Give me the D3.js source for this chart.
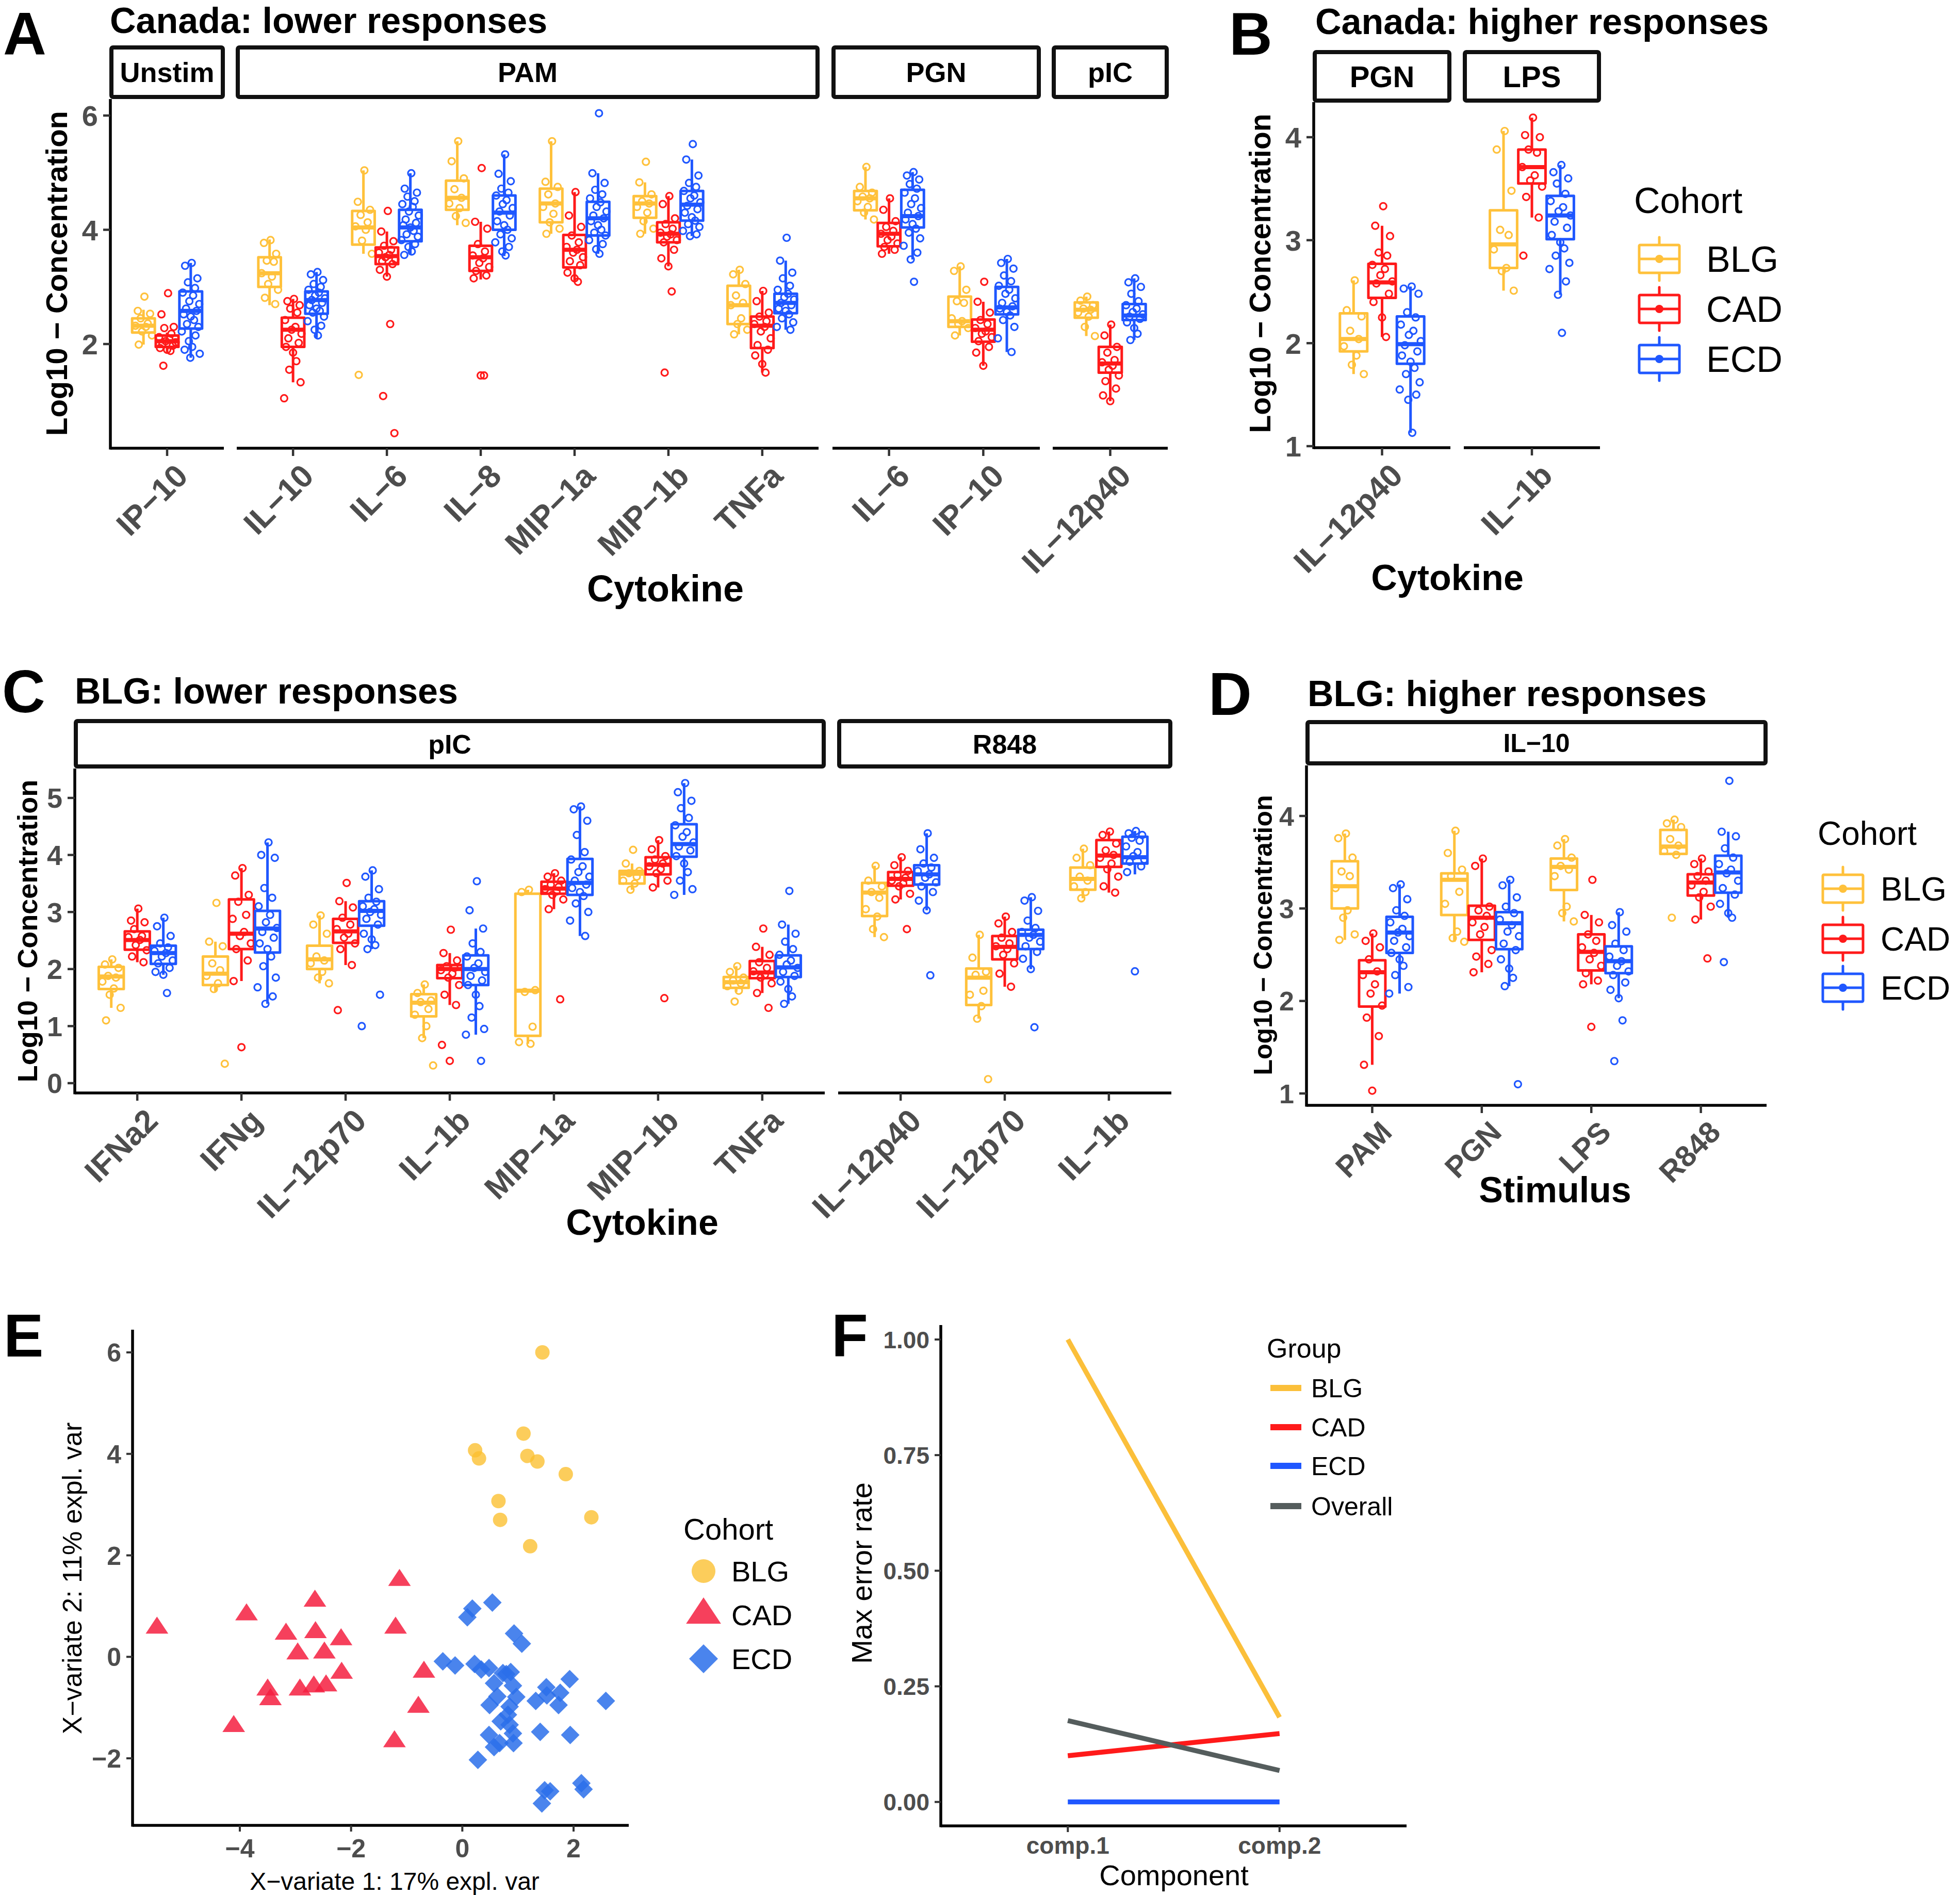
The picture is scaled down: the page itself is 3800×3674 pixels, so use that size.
<!DOCTYPE html>
<html><head><meta charset="utf-8">
<script src="https://cdn.jsdelivr.net/npm/d3@7"></script>
<style>body{margin:0;background:#fff}svg{display:block}</style>
</head><body>
<svg id="c" width="3800" height="3674"></svg>
<script>
// ---------------- DATA ----------------
const cohorts = ["BLG", "CAD", "ECD"];
const cohortColors = ["#FFC13B", "#FF1A1A", "#1F57FF"];

// Panel A: Canada lower responses. stats = [whiskerLow, q1, median, q3, whiskerHigh]
const aFacets = ["Unstim", "PAM", "PGN", "pIC"];
const aCategories = [["IP−10"], ["IL−10", "IL−6", "IL−8", "MIP−1a", "MIP−1b", "TNFa"], ["IL−6", "IP−10"], ["IL−12p40"]];
const aTicks = [2, 4, 6];
const aStats = [
  [[[1.99,2.20,2.32,2.45,2.60],[1.86,1.95,2.05,2.15,2.20],[1.76,2.27,2.58,2.92,3.42]]],
  [[[2.68,3.00,3.24,3.52,3.83],[1.33,1.95,2.25,2.46,2.79],[2.11,2.53,2.77,2.92,3.26]],
   [[3.58,3.74,4.04,4.33,5.04],[3.18,3.40,3.54,3.69,3.97],[3.56,3.80,4.04,4.35,4.99]],
   [[4.08,4.35,4.56,4.86,5.55],[3.13,3.28,3.52,3.72,4.14],[3.54,4.00,4.30,4.60,5.32]],
   [[3.93,4.13,4.46,4.72,5.55],[3.09,3.34,3.65,3.91,4.66],[3.58,3.90,4.20,4.49,4.99]],
   [[3.93,4.21,4.46,4.59,4.83],[3.36,3.78,3.93,4.13,4.59],[3.89,4.16,4.44,4.68,5.23]],
   [[2.17,2.35,2.68,3.02,3.30],[1.50,1.93,2.32,2.48,2.93],[2.25,2.54,2.72,2.88,3.46]]],
  [[[4.18,4.34,4.55,4.68,5.10],[3.58,3.71,3.93,4.12,4.55],[3.48,4.04,4.24,4.70,5.01]],
   [[2.15,2.30,2.40,2.83,3.36],[1.62,2.04,2.25,2.43,2.74],[1.86,2.52,2.64,3.00,3.49]]],
  [[[2.14,2.46,2.60,2.73,2.83],[1.00,1.50,1.66,1.95,2.34],[2.07,2.42,2.50,2.70,3.15]]]
];
const aPoints = [
  [[[2.83,2.58,2.53,2.45,2.36,2.32,2.30,2.22,2.15,1.99],
    [2.89,2.52,2.30,2.28,2.18,2.12,2.08,2.05,2.03,2.00,1.97,1.93,1.90,1.88,1.62],
    [3.42,3.37,3.15,3.08,2.98,2.90,2.85,2.75,2.70,2.62,2.58,2.52,2.48,2.42,2.35,2.30,2.22,2.15,2.05,1.95,1.90,1.83,1.76]]],
  [[[3.82,3.77,3.58,3.46,3.44,3.24,3.18,3.05,2.95,2.81,2.70],
    [2.79,2.75,2.68,2.62,2.55,2.42,2.30,2.25,2.18,2.10,2.02,1.95,1.85,1.70,1.55,1.33,1.05],
    [3.26,3.22,3.12,3.05,3.00,2.95,2.90,2.85,2.80,2.77,2.72,2.68,2.62,2.58,2.55,2.48,2.40,2.32,2.25,2.15]],
   [[5.04,4.49,4.35,4.26,4.13,4.06,4.00,3.81,3.58,1.46],
    [4.33,3.97,3.80,3.72,3.65,3.60,3.56,3.52,3.48,3.45,3.40,3.30,3.18,2.35,1.09,0.44],
    [4.99,4.72,4.65,4.58,4.50,4.45,4.40,4.32,4.25,4.18,4.12,4.08,4.04,3.98,3.92,3.88,3.82,3.75,3.70,3.62,3.56]],
   [[5.55,5.20,4.90,4.71,4.56,4.46,4.38,4.24,4.12],
    [5.08,4.14,4.02,3.75,3.62,3.55,3.50,3.42,3.35,3.28,3.20,3.15,1.45,1.45],
    [5.32,4.98,4.85,4.72,4.65,4.60,4.52,4.45,4.38,4.32,4.25,4.15,4.08,4.00,3.92,3.85,3.78,3.70,3.62,3.55]],
   [[5.55,4.84,4.75,4.62,4.46,4.40,4.28,4.13,4.02,3.93],
    [4.66,4.25,4.05,3.90,3.78,3.70,3.65,3.60,3.52,3.45,3.38,3.25,3.15,3.09],
    [6.04,4.99,4.82,4.70,4.62,4.55,4.48,4.40,4.32,4.25,4.20,4.15,4.08,4.00,3.95,3.90,3.82,3.75,3.66,3.58]],
   [[5.19,4.83,4.62,4.50,4.46,4.40,4.30,4.15,4.02,3.93],
    [4.59,4.45,4.20,4.10,4.02,3.95,3.92,3.88,3.82,3.78,3.65,3.50,3.36,2.92,1.50],
    [5.50,5.23,4.95,4.82,4.75,4.68,4.60,4.55,4.48,4.42,4.36,4.30,4.22,4.16,4.10,4.05,3.98,3.92,3.89]],
   [[3.30,3.22,3.05,2.85,2.72,2.68,2.45,2.35,2.25,2.17],
    [2.93,2.75,2.55,2.48,2.40,2.35,2.30,2.22,2.10,1.98,1.90,1.80,1.65,1.50],
    [3.86,3.46,3.25,3.15,3.02,2.95,2.88,2.82,2.78,2.72,2.68,2.62,2.58,2.52,2.45,2.38,2.30,2.25]]],
  [[[5.10,4.75,4.65,4.58,4.55,4.50,4.40,4.30,4.18],
    [4.55,4.35,4.15,4.05,3.98,3.93,3.88,3.82,3.76,3.70,3.65,3.58],
    [5.01,4.95,4.88,4.80,4.72,4.65,4.55,4.45,4.38,4.30,4.24,4.18,4.10,4.02,3.95,3.85,3.72,3.60,3.48,3.09]],
   [[3.36,3.28,2.95,2.75,2.72,2.45,2.40,2.35,2.28,2.15],
    [3.09,2.74,2.55,2.42,2.35,2.28,2.22,2.18,2.12,2.05,1.95,1.85,1.62],
    [3.49,3.42,3.32,3.20,3.10,3.02,2.95,2.88,2.80,2.72,2.66,2.62,2.56,2.50,2.42,2.30,2.10,1.86]]],
  [[[2.83,2.76,2.68,2.62,2.60,2.55,2.48,2.30,2.14],
    [2.34,2.15,1.95,1.85,1.72,1.68,1.62,1.55,1.45,1.35,1.22,1.10,1.00],
    [3.15,3.08,3.00,2.88,2.75,2.68,2.62,2.56,2.52,2.48,2.44,2.38,2.28,2.18,2.07]]]
];

// Panel B: Canada higher responses
const bFacets = ["PGN", "LPS"];
const bCategories = [["IL−12p40"], ["IL−1b"]];
const bTicks = [1, 2, 3, 4];
const bStats = [
  [[[1.70,1.92,2.04,2.29,2.61],[2.06,2.44,2.59,2.77,3.14],[1.13,1.80,1.99,2.26,2.55]]],
  [[[2.51,2.73,2.96,3.29,4.06],[3.22,3.55,3.71,3.88,4.19],[2.47,3.01,3.24,3.43,3.73]]]
];
const bPoints = [
  [[[2.61,2.32,2.26,2.12,2.04,1.97,1.88,1.79,1.70],
    [3.33,3.14,3.04,2.88,2.85,2.76,2.72,2.66,2.60,2.58,2.48,2.40,2.25,2.06],
    [2.55,2.53,2.48,2.30,2.25,2.18,2.12,2.08,2.02,1.98,1.92,1.88,1.82,1.76,1.70,1.62,1.55,1.50,1.45,1.13]]],
  [[[4.06,3.88,3.48,3.10,3.05,2.91,2.73,2.70,2.51],
    [4.19,4.02,4.00,3.88,3.85,3.71,3.63,3.58,3.52,3.42,3.22,2.85],
    [3.73,3.66,3.60,3.55,3.45,3.38,3.32,3.28,3.24,3.18,3.12,3.05,2.98,2.92,2.85,2.78,2.72,2.60,2.47,2.10]]]
];

// Panel C: BLG lower responses
const cFacets = ["pIC", "R848"];
const cCategories = [["IFNa2", "IFNg", "IL−12p70", "IL−1b", "MIP−1a", "MIP−1b", "TNFa"], ["IL−12p40", "IL−12p70", "IL−1b"]];
const cTicks = [0, 1, 2, 3, 4, 5];
const cStats = [
  [[[1.32,1.65,1.87,2.04,2.17],[2.12,2.34,2.51,2.66,3.06],[1.90,2.09,2.28,2.41,2.90]],
   [[1.61,1.72,1.92,2.22,2.48],[1.79,2.35,2.62,3.22,3.77],[1.39,2.29,2.71,3.02,4.22]],
   [[1.75,2.00,2.17,2.41,2.94],[2.07,2.46,2.66,2.88,3.19],[2.35,2.76,3.02,3.19,3.73]],
   [[0.79,1.17,1.41,1.56,1.73],[1.37,1.84,2.00,2.07,2.28],[0.85,1.72,2.00,2.24,2.71]],
   [[0.69,0.83,1.62,3.32,3.39],[3.05,3.32,3.41,3.53,3.68],[2.58,3.30,3.51,3.93,4.85]],
   [[3.39,3.50,3.67,3.72,3.85],[3.43,3.66,3.83,3.96,4.26],[3.30,3.97,4.19,4.54,5.26]],
   [[1.60,1.67,1.77,1.86,2.05],[1.58,1.84,1.94,2.14,2.39],[1.39,1.86,2.03,2.24,2.78]]],
  [[[2.56,2.93,3.34,3.51,3.81],[3.22,3.46,3.58,3.70,3.96],[3.03,3.48,3.66,3.82,4.38]],
   [[1.13,1.37,1.85,2.01,2.60],[1.69,2.17,2.39,2.58,2.92],[2.00,2.35,2.60,2.69,3.26]],
   [[3.24,3.39,3.58,3.78,4.11],[3.34,3.79,3.99,4.26,4.41],[3.66,3.85,3.96,4.32,4.42]]]
];
const cPoints = [
  [[[2.17,2.08,2.02,1.88,1.85,1.78,1.66,1.55,1.32,1.10],
    [3.06,2.85,2.82,2.70,2.58,2.56,2.51,2.42,2.33,2.22,2.12],
    [2.90,2.75,2.58,2.45,2.38,2.32,2.28,2.22,2.15,2.10,2.02,1.95,1.90,1.58]],
   [[3.16,2.48,2.40,2.10,1.98,1.88,1.75,1.65,0.34],
    [3.77,3.64,3.30,3.18,2.95,2.88,2.65,2.58,2.45,2.35,2.15,1.79,0.63],
    [4.22,4.00,3.95,3.42,3.25,3.10,2.95,2.82,2.72,2.65,2.55,2.45,2.35,2.22,2.05,1.85,1.68,1.52,1.39]],
   [[2.94,2.78,2.62,2.22,2.15,2.10,1.95,1.85,1.75],
    [3.51,3.19,3.08,2.90,2.78,2.70,2.62,2.55,2.45,2.35,2.07,1.28],
    [3.73,3.62,3.40,3.25,3.18,3.10,3.05,3.00,2.95,2.88,2.78,2.62,2.52,2.42,2.35,1.55,1.00]],
   [[1.73,1.58,1.45,1.42,1.30,1.20,1.00,0.79,0.31],
    [2.69,2.28,2.15,2.05,2.02,1.98,1.92,1.85,1.72,1.55,1.37,0.67,0.39],
    [3.54,3.03,2.71,2.45,2.30,2.22,2.10,2.02,1.95,1.88,1.80,1.72,1.55,1.35,1.15,0.95,0.85,0.39]],
   [[3.39,3.35,1.63,1.60,0.99,0.72,0.69],
    [3.68,3.62,3.55,3.48,3.44,3.40,3.36,3.30,3.22,3.05,1.47],
    [4.85,4.80,4.60,4.35,4.05,3.92,3.80,3.70,3.62,3.55,3.48,3.42,3.35,3.28,3.15,3.00,2.85,2.58]],
   [[4.09,3.85,3.72,3.68,3.62,3.55,3.50,3.39],
    [4.26,4.10,3.98,3.92,3.85,3.80,3.75,3.68,3.55,3.43,1.49],
    [5.26,5.10,4.95,4.82,4.65,4.52,4.40,4.32,4.22,4.15,4.08,3.98,3.85,3.70,3.55,3.40,3.30]],
   [[2.05,1.95,1.85,1.80,1.75,1.70,1.62,1.43],
    [2.71,2.39,2.25,2.12,2.02,1.96,1.90,1.85,1.75,1.58,1.32],
    [3.37,2.78,2.62,2.48,2.35,2.25,2.15,2.08,2.02,1.95,1.88,1.78,1.65,1.52,1.39]]],
  [[[3.81,3.55,3.45,3.35,3.25,3.05,2.92,2.70,2.56],
    [3.96,3.82,3.72,3.65,3.60,3.55,3.50,3.45,3.32,3.22,2.70],
    [4.38,4.10,3.95,3.85,3.78,3.72,3.66,3.60,3.52,3.45,3.35,3.20,3.03,1.89]],
   [[2.60,2.20,1.95,1.90,1.62,1.55,1.35,1.13,0.07],
    [2.92,2.80,2.65,2.55,2.45,2.40,2.35,2.25,2.10,1.92,1.69],
    [3.26,3.20,3.02,2.85,2.72,2.65,2.60,2.55,2.48,2.40,2.30,2.18,2.00,0.98]],
   [[4.11,3.95,3.82,3.62,3.55,3.45,3.35,3.24],
    [4.41,4.35,4.20,4.08,4.00,3.95,3.85,3.75,3.62,3.45,3.34],
    [4.42,4.38,4.35,4.30,4.25,4.15,4.05,3.98,3.92,3.88,3.80,3.70,1.96]]]
];

// Panel D: BLG higher responses (IL-10)
const dFacets = ["IL−10"];
const dCategories = [["PAM", "PGN", "LPS", "R848"]];
const dTicks = [1, 2, 3, 4];
const dStats = [
  [[[2.66,3.00,3.24,3.51,3.81],[1.31,1.94,2.31,2.44,2.73],[2.08,2.52,2.74,2.91,3.26]],
   [[2.64,2.93,3.31,3.38,3.84],[2.31,2.66,2.90,3.03,3.54],[2.16,2.56,2.84,2.96,3.31]],
   [[2.86,3.20,3.45,3.54,3.75],[2.18,2.33,2.53,2.72,2.93],[2.03,2.30,2.43,2.59,2.96]],
   [[3.57,3.59,3.67,3.85,3.96],[2.88,3.14,3.28,3.37,3.54],[2.90,3.17,3.39,3.57,3.83]]]
];
const dPoints = [
  [[[3.81,3.76,3.55,3.40,3.35,3.22,2.98,2.90,2.72,2.66],
    [2.73,2.65,2.58,2.45,2.32,2.28,2.18,2.08,1.95,1.82,1.62,1.31,1.03],
    [3.26,3.22,3.10,2.98,2.92,2.85,2.78,2.74,2.70,2.65,2.58,2.52,2.45,2.38,2.28,2.15,2.08]],
   [[3.84,3.60,3.42,3.35,3.18,3.05,2.75,2.68,2.64],
    [3.54,3.46,3.02,2.98,2.92,2.85,2.80,2.72,2.55,2.48,2.40,2.31],
    [3.31,3.25,3.12,3.02,2.95,2.88,2.82,2.75,2.70,2.62,2.55,2.45,2.35,2.25,2.16,1.10]],
   [[3.75,3.68,3.55,3.46,3.42,3.35,3.02,2.95,2.86],
    [3.31,2.93,2.85,2.72,2.65,2.58,2.52,2.45,2.38,2.30,2.22,2.18,1.72],
    [2.96,2.82,2.75,2.62,2.55,2.48,2.43,2.38,2.32,2.28,2.20,2.12,2.03,1.79,1.35]],
   [[3.96,3.92,3.88,3.75,3.68,3.62,3.58,2.90],
    [3.54,3.48,3.40,3.35,3.30,3.25,3.18,3.12,3.02,2.88,2.46],
    [4.38,3.83,3.78,3.65,3.55,3.48,3.42,3.38,3.30,3.22,3.15,3.05,2.95,2.90,2.42]]]
];

// Panel E: sPLS-DA scores
const eTicksX = [-4, -2, 0, 2];
const eTicksY = [-2, 0, 2, 4, 6];
const eBLG_x = [1.44,1.10,0.23,0.30,1.17,1.35,1.86,0.65,0.68,2.32,1.22];
const eBLG_y = [6.00,4.40,4.07,3.91,3.96,3.85,3.60,3.07,2.70,2.75,2.18];
const eCAD_x = [-5.49,-3.88,-2.65,-1.13,-3.17,-2.64,-2.18,-1.20,-2.96,-2.48,-2.17,-0.69,-3.50,-3.45,-2.92,-2.67,-2.45,-0.79,-4.11,-1.22];
const eCAD_y = [0.57,0.83,1.10,1.51,0.45,0.48,0.34,0.57,0.06,0.08,-0.32,-0.30,-0.65,-0.84,-0.65,-0.59,-0.57,-0.99,-1.37,-1.67];
const eECD_x = [0.54,0.18,0.09,0.93,1.07,-0.35,-0.13,0.22,0.34,0.48,0.73,0.79,0.87,0.57,0.91,0.63,0.97,0.49,0.85,0.82,0.69,0.85,0.91,0.48,0.67,0.57,0.92,0.28,1.93,1.51,1.52,1.76,1.32,1.73,2.58,1.40,1.94,1.48,1.58,1.43,2.14,2.18];
const eECD_y = [1.07,0.95,0.78,0.46,0.26,-0.09,-0.17,-0.14,-0.25,-0.22,-0.32,-0.34,-0.30,-0.52,-0.57,-0.78,-0.79,-0.95,-0.98,-1.14,-1.27,-1.34,-1.51,-1.54,-1.70,-1.78,-1.70,-2.03,-0.44,-0.60,-0.76,-0.71,-0.87,-0.95,-0.87,-1.48,-1.54,-2.63,-2.65,-2.89,-2.49,-2.61];

// Panel F: max error rate
const fComponents = ["comp.1", "comp.2"];
const fGroups = ["BLG", "CAD", "ECD", "Overall"];
const fBLG = [1.00, 0.183];
const fCAD = [0.100, 0.148];
const fECD = [0.000, 0.000];
const fOverall = [0.176, 0.068];
const fTicks = [0, 0.25, 0.5, 0.75, 1.0];

// ---------------- DRAWING ----------------
const svg = d3.select("#c");
const FONT = "'Liberation Sans', Arial, Helvetica, sans-serif";
const GRAY = "#4D4D4D";
const jit = [0.1,-0.6,0.7,-0.3,0.45,-0.85,0.25,-0.15,0.9,-0.5,0.6,-0.75,0.0,0.35,-0.4,0.8,-0.95,0.5,-0.2,0.15,-0.65,0.95,-0.05,0.55];

function T(g, x, y, s, size, o = {}) {
  const t = g.append("text")
    .attr("transform", `translate(${x},${y})` + (o.rot ? ` rotate(${o.rot})` : ""))
    .attr("font-family", FONT).attr("font-size", size)
    .attr("font-weight", o.bold ? "bold" : "normal")
    .attr("fill", o.fill || "#000")
    .attr("text-anchor", o.anchor || "start")
    .text(s);
  if (o.dy) t.attr("dy", o.dy);
  return t;
}

function boxPanel(p) {
  const g = svg.append("g");
  const y = d3.scaleLinear().domain(p.yDomain).range(p.yRange);
  const ax = p.facets[0].x0;
  g.append("line").attr("x1", ax).attr("x2", ax).attr("y1", p.top).attr("y2", p.bottom + 2.5)
    .attr("stroke", "#000").attr("stroke-width", 5.5);
  p.yTicks.forEach(v => {
    g.append("line").attr("x1", ax - 14).attr("x2", ax).attr("y1", y(v)).attr("y2", y(v))
      .attr("stroke", "#333").attr("stroke-width", 4.5);
    T(g, ax - 24, y(v), String(v), p.yTickSize, {bold: true, fill: GRAY, anchor: "end", dy: "0.36em"});
  });
  p.facets.forEach((f, fi) => {
    const cats = p.cats[fi];
    const x = d3.scalePoint().domain(cats).range([f.x0, f.x1]).padding(0.6);
    const u = x.step();
    // strip
    g.append("rect").attr("x", f.x0 + 2).attr("y", p.strip[0]).attr("width", f.x1 - f.x0 - 4)
      .attr("height", p.strip[1] - p.strip[0]).attr("fill", "#fff").attr("stroke", "#111")
      .attr("stroke-width", 8).attr("rx", 3);
    T(g, (f.x0 + f.x1) / 2, (p.strip[0] + p.strip[1]) / 2, f.name, p.stripSize, {bold: true, anchor: "middle", dy: "0.36em"});
    // bottom axis
    g.append("line").attr("x1", f.x0).attr("x2", f.x1).attr("y1", p.bottom).attr("y2", p.bottom)
      .attr("stroke", "#000").attr("stroke-width", 5.5);
    cats.forEach((c, ci) => {
      const cx = x(c);
      g.append("line").attr("x1", cx).attr("x2", cx).attr("y1", p.bottom).attr("y2", p.bottom + 15)
        .attr("stroke", "#333").attr("stroke-width", 4.5);
      T(g, cx + 12, p.bottom + 26, c, p.xTickSize, {bold: true, fill: GRAY, anchor: "end", rot: -45, dy: "0.72em"});
      cohorts.forEach((co, k) => {
        const st = p.stats[fi][ci][k];
        const pts = p.points[fi][ci][k];
        const col = cohortColors[k];
        const bx = cx + (k - 1) * 0.25 * u;
        const bw = 0.24 * u;
        const bg = g.append("g");
        bg.append("line").attr("x1", bx).attr("x2", bx).attr("y1", y(st[0])).attr("y2", y(st[1]))
          .attr("stroke", col).attr("stroke-width", 5);
        bg.append("line").attr("x1", bx).attr("x2", bx).attr("y1", y(st[3])).attr("y2", y(st[4]))
          .attr("stroke", col).attr("stroke-width", 5);
        bg.append("rect").attr("x", bx - bw / 2).attr("y", y(st[3])).attr("width", bw)
          .attr("height", y(st[1]) - y(st[3])).attr("fill", "#fff").attr("stroke", col)
          .attr("stroke-width", 5).attr("stroke-linejoin", "round");
        bg.append("line").attr("x1", bx - bw / 2).attr("x2", bx + bw / 2).attr("y1", y(st[2])).attr("y2", y(st[2]))
          .attr("stroke", col).attr("stroke-width", 8);
        bg.selectAll("circle").data(pts).join("circle")
          .attr("cx", (d, i) => bx + jit[i % jit.length] * 0.1 * u)
          .attr("cy", d => y(d)).attr("r", 6.5)
          .attr("fill", "none").attr("stroke", col).attr("stroke-width", 3.2);
      });
    });
  });
  // titles
  T(g, p.label[0], p.label[1], p.labelText, 116, {bold: true});
  T(g, p.title[0], p.title[1], p.titleText, 70, {bold: true});
  T(g, p.xTitle[0], p.xTitle[1], p.xTitleText, p.xTitleSize, {bold: true, anchor: "middle"});
  T(g, p.yTitle[0], p.yTitle[1], "Log10 − Concentration", p.yTitleSize, {bold: true, anchor: "middle", rot: -90});
}

function boxLegend(x, yTitle, ys, xText, fs) {
  const g = svg.append("g");
  T(g, x, yTitle, "Cohort", fs);
  cohorts.forEach((c, k) => {
    const cy = ys[k], col = cohortColors[k], kx = x + 49;
    g.append("line").attr("x1", kx).attr("x2", kx).attr("y1", cy - 42).attr("y2", cy + 42)
      .attr("stroke", col).attr("stroke-width", 5).attr("stroke-linecap", "round");
    g.append("rect").attr("x", kx - 39).attr("y", cy - 27).attr("width", 78).attr("height", 54)
      .attr("fill", "#fff").attr("stroke", col).attr("stroke-width", 5).attr("rx", 2);
    g.append("line").attr("x1", kx - 39).attr("x2", kx + 39).attr("y1", cy).attr("y2", cy)
      .attr("stroke", col).attr("stroke-width", 5);
    g.append("circle").attr("cx", kx).attr("cy", cy).attr("r", 8).attr("fill", col);
    T(g, xText, cy + fs * 0.36, c, fs);
  });
}

// Panel A
boxPanel({
  facets: [{name: aFacets[0], x0: 214, x1: 434}, {name: aFacets[1], x0: 459, x1: 1587},
           {name: aFacets[2], x0: 1614, x1: 2016}, {name: aFacets[3], x0: 2041, x1: 2264}],
  cats: aCategories, stats: aStats, points: aPoints, yTicks: aTicks,
  yDomain: [2, 6], yRange: [667, 224], top: 192, bottom: 869, strip: [92, 188],
  yTickSize: 56, xTickSize: 62, stripSize: 54,
  label: [6, 106], labelText: "A", title: [213, 64], titleText: "Canada: lower responses",
  xTitle: [1290, 1166], xTitleText: "Cytokine", xTitleSize: 72,
  yTitle: [130, 530], yTitleSize: 58
});
// Panel B
boxPanel({
  facets: [{name: bFacets[0], x0: 2547, x1: 2812}, {name: bFacets[1], x0: 2838, x1: 3102}],
  cats: bCategories, stats: bStats, points: bPoints, yTicks: bTicks,
  yDomain: [1, 4], yRange: [865, 266], top: 198, bottom: 868, strip: [101, 195],
  yTickSize: 56, xTickSize: 62, stripSize: 58,
  label: [2383, 106], labelText: "B", title: [2550, 66], titleText: "Canada: higher responses",
  xTitle: [2806, 1144], xTitleText: "Cytokine", xTitleSize: 70,
  yTitle: [2463, 530], yTitleSize: 57
});
boxLegend(3168, 413, [502, 599, 696], 3308, 70);
// Panel C
boxPanel({
  facets: [{name: cFacets[0], x0: 145, x1: 1599}, {name: cFacets[1], x0: 1625, x1: 2271}],
  cats: cCategories, stats: cStats, points: cPoints, yTicks: cTicks,
  yDomain: [0, 5], yRange: [2100, 1547], top: 1490, bottom: 2119, strip: [1398, 1486],
  yTickSize: 54, xTickSize: 62, stripSize: 52,
  label: [4, 1381], labelText: "C", title: [145, 1364], titleText: "BLG: lower responses",
  xTitle: [1245, 2394], xTitleText: "Cytokine", xTitleSize: 70,
  yTitle: [72, 1805], yTitleSize: 54
});
// Panel D
boxPanel({
  facets: [{name: dFacets[0], x0: 2533, x1: 3425}],
  cats: dCategories, stats: dStats, points: dPoints, yTicks: dTicks,
  yDomain: [1, 4], yRange: [2120, 1582], top: 1484, bottom: 2143, strip: [1400, 1480],
  yTickSize: 52, xTickSize: 58, stripSize: 50,
  label: [2343, 1386], labelText: "D", title: [2535, 1369], titleText: "BLG: higher responses",
  xTitle: [3015, 2331], xTitleText: "Stimulus", xTitleSize: 70,
  yTitle: [2466, 1813], yTitleSize: 50
});
boxLegend(3524, 1638, [1723, 1820, 1915], 3646, 64);

// Panel E
(function() {
  const g = svg.append("g");
  const x = d3.scaleLinear().domain([-4, 2]).range([465, 1112]);
  const y = d3.scaleLinear().domain([-2, 6]).range([3409, 2622]);
  const L = 257, B = 3539, R = 1219, Tp = 2578;
  g.append("line").attr("x1", L).attr("x2", L).attr("y1", Tp).attr("y2", B + 2.5).attr("stroke", "#000").attr("stroke-width", 5.5);
  g.append("line").attr("x1", L).attr("x2", R).attr("y1", B).attr("y2", B).attr("stroke", "#000").attr("stroke-width", 5.5);
  eTicksY.forEach(v => {
    g.append("line").attr("x1", L - 12).attr("x2", L).attr("y1", y(v)).attr("y2", y(v)).attr("stroke", "#333").attr("stroke-width", 4);
    T(g, L - 22, y(v), v < 0 ? "−" + Math.abs(v) : String(v), 50, {bold: true, fill: GRAY, anchor: "end", dy: "0.36em"});
  });
  eTicksX.forEach(v => {
    g.append("line").attr("x1", x(v)).attr("x2", x(v)).attr("y1", B).attr("y2", B + 12).attr("stroke", "#333").attr("stroke-width", 4);
    T(g, x(v), B + 62, v < 0 ? "−" + Math.abs(v) : String(v), 50, {bold: true, fill: GRAY, anchor: "middle"});
  });
  const tri = (cx, cy, h) => { const w = h / Math.sqrt(3) * 2 * 0.5 * 1.15; return `M${cx},${cy - h * 2 / 3}L${cx + w},${cy + h / 3}L${cx - w},${cy + h / 3}Z`; };
  const dia = (cx, cy, r) => `M${cx},${cy - r}L${cx + r},${cy}L${cx},${cy + r}L${cx - r},${cy}Z`;
  eBLG_x.forEach((v, i) => g.append("circle").attr("cx", x(v)).attr("cy", y(eBLG_y[i])).attr("r", 14)
    .attr("fill", "#FBBF2D").attr("fill-opacity", 0.78));
  eCAD_x.forEach((v, i) => g.append("path").attr("d", tri(x(v), y(eCAD_y[i]), 33))
    .attr("fill", "#F51E40").attr("fill-opacity", 0.85));
  eECD_x.forEach((v, i) => g.append("path").attr("d", dia(x(v), y(eECD_y[i]), 18))
    .attr("fill", "#2A6EEA").attr("fill-opacity", 0.85));
  T(g, 7, 2630, "E", 116, {bold: true});
  T(g, 765, 3664, "X−variate 1: 17% expl. var", 48, {anchor: "middle"});
  T(g, 158, 3060, "X−variate 2: 11% expl. var", 52, {anchor: "middle", rot: -90});
  // legend
  T(g, 1325, 2985, "Cohort", 58);
  g.append("circle").attr("cx", 1364).attr("cy", 3046).attr("r", 23).attr("fill", "#FBBF2D").attr("fill-opacity", 0.78);
  g.append("path").attr("d", tri(1364, 3131, 51)).attr("fill", "#F51E40").attr("fill-opacity", 0.85);
  g.append("path").attr("d", dia(1364, 3216, 28)).attr("fill", "#2A6EEA").attr("fill-opacity", 0.85);
  T(g, 1418, 3066, "BLG", 56);
  T(g, 1418, 3151, "CAD", 56);
  T(g, 1418, 3236, "ECD", 56);
})();

// Panel F
(function() {
  const g = svg.append("g");
  const x = d3.scalePoint().domain(fComponents).range([1824, 2727]).padding(0.6);
  const y = d3.scaleLinear().domain([0, 1]).range([3493.6, 2597]);
  const L = 1824, B = 3540, R = 2727, Tp = 2569;
  g.append("line").attr("x1", L).attr("x2", L).attr("y1", Tp).attr("y2", B + 2.5).attr("stroke", "#000").attr("stroke-width", 5.5);
  g.append("line").attr("x1", L).attr("x2", R).attr("y1", B).attr("y2", B).attr("stroke", "#000").attr("stroke-width", 5.5);
  fTicks.forEach(v => {
    g.append("line").attr("x1", L - 12).attr("x2", L).attr("y1", y(v)).attr("y2", y(v)).attr("stroke", "#333").attr("stroke-width", 4);
    T(g, L - 22, y(v), v.toFixed(2), 46, {bold: true, fill: GRAY, anchor: "end", dy: "0.36em"});
  });
  fComponents.forEach(c => {
    g.append("line").attr("x1", x(c)).attr("x2", x(c)).attr("y1", B).attr("y2", B + 12).attr("stroke", "#333").attr("stroke-width", 4);
    T(g, x(c), B + 54, c, 46, {bold: true, fill: GRAY, anchor: "middle"});
  });
  const fSeries = [fBLG, fCAD, fECD, fOverall];
  const fColors = ["#FBBF3A", "#FF1A1A", "#1F57FF", "#555D5D"];
  const line = d3.line().x((d, i) => x(fComponents[i])).y(d => y(d));
  fSeries.forEach((s, k) => g.append("path").attr("d", line(s)).attr("fill", "none")
    .attr("stroke", fColors[k]).attr("stroke-width", 9.5));
  T(g, 1612, 2630, "F", 116, {bold: true});
  T(g, 2276, 3655, "Component", 56, {anchor: "middle"});
  T(g, 1690, 3050, "Max error rate", 56, {anchor: "middle", rot: -90});
  T(g, 2456, 2632, "Group", 52);
  const ly = [2691, 2767, 2842, 2920];
  fGroups.forEach((gr, k) => {
    g.append("line").attr("x1", 2463).attr("x2", 2523).attr("y1", ly[k]).attr("y2", ly[k])
      .attr("stroke", fColors[k]).attr("stroke-width", 12);
    T(g, 2542, ly[k] + 18, gr, 50);
  });
})();
</script>
</body></html>
